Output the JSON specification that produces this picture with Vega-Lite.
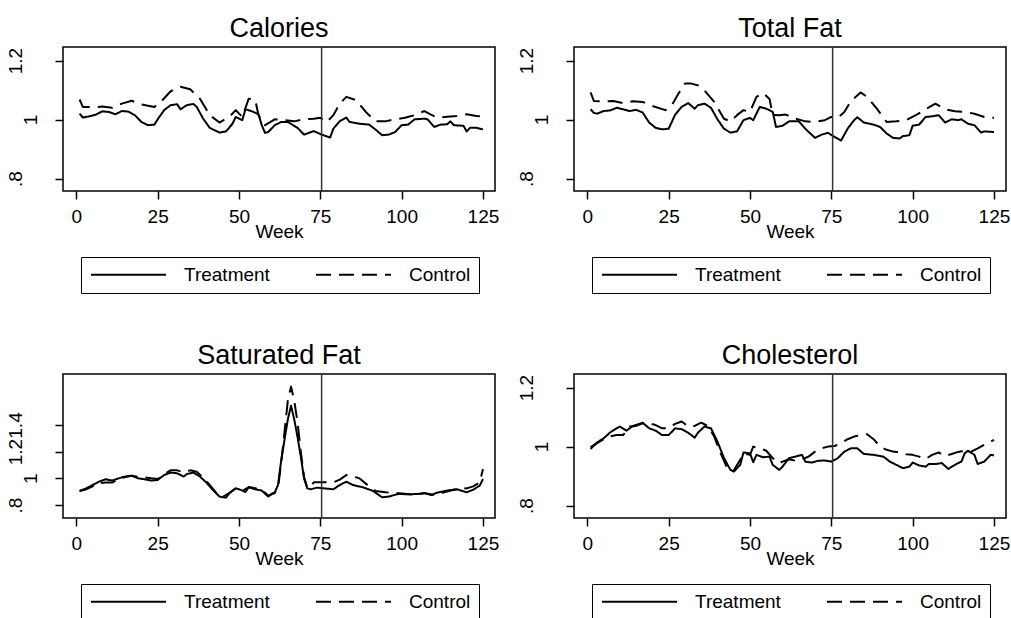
{
  "$schema": "https://vega.github.io/schema/vega-lite/v6.json",
  "background": "white",
  "padding": {"left": 5, "top": 14, "right": 2, "bottom": 0},
  "datasets": {
    "cal": [
      {"w":1,"g":"Treatment","v":1.020},{"w":2,"g":"Treatment","v":1.007},{"w":4,"g":"Treatment","v":1.011},{"w":6,"g":"Treatment","v":1.017},{"w":8,"g":"Treatment","v":1.028},{"w":10,"g":"Treatment","v":1.026},{"w":12,"g":"Treatment","v":1.018},{"w":14,"g":"Treatment","v":1.029},{"w":16,"g":"Treatment","v":1.027},{"w":18,"g":"Treatment","v":1.015},{"w":20,"g":"Treatment","v":0.992},{"w":22,"g":"Treatment","v":0.981},{"w":24,"g":"Treatment","v":0.983},{"w":25,"g":"Treatment","v":1.001},{"w":27,"g":"Treatment","v":1.032},{"w":29,"g":"Treatment","v":1.049},{"w":31,"g":"Treatment","v":1.052},{"w":32,"g":"Treatment","v":1.035},{"w":34,"g":"Treatment","v":1.049},{"w":36,"g":"Treatment","v":1.053},{"w":37,"g":"Treatment","v":1.043},{"w":39,"g":"Treatment","v":1.003},{"w":41,"g":"Treatment","v":0.972},{"w":44,"g":"Treatment","v":0.956},{"w":46,"g":"Treatment","v":0.960},{"w":48,"g":"Treatment","v":0.986},{"w":49,"g":"Treatment","v":1.009},{"w":51,"g":"Treatment","v":0.998},{"w":52,"g":"Treatment","v":1.035},{"w":54,"g":"Treatment","v":1.028},{"w":56,"g":"Treatment","v":1.018},{"w":57,"g":"Treatment","v":0.981},{"w":58,"g":"Treatment","v":0.955},{"w":59,"g":"Treatment","v":0.958},{"w":61,"g":"Treatment","v":0.981},{"w":63,"g":"Treatment","v":0.992},{"w":65,"g":"Treatment","v":0.992},{"w":68,"g":"Treatment","v":0.972},{"w":70,"g":"Treatment","v":0.949},{"w":73,"g":"Treatment","v":0.961},{"w":75,"g":"Treatment","v":0.951},{"w":76,"g":"Treatment","v":0.947},{"w":78,"g":"Treatment","v":0.939},{"w":79,"g":"Treatment","v":0.969},{"w":81,"g":"Treatment","v":0.995},{"w":83,"g":"Treatment","v":1.007},{"w":84,"g":"Treatment","v":0.992},{"w":87,"g":"Treatment","v":0.986},{"w":90,"g":"Treatment","v":0.983},{"w":92,"g":"Treatment","v":0.966},{"w":94,"g":"Treatment","v":0.947},{"w":96,"g":"Treatment","v":0.949},{"w":98,"g":"Treatment","v":0.958},{"w":100,"g":"Treatment","v":0.981},{"w":102,"g":"Treatment","v":0.983},{"w":104,"g":"Treatment","v":1.001},{"w":107,"g":"Treatment","v":1.003},{"w":108,"g":"Treatment","v":1.001},{"w":110,"g":"Treatment","v":0.975},{"w":112,"g":"Treatment","v":0.983},{"w":114,"g":"Treatment","v":0.984},{"w":115,"g":"Treatment","v":0.994},{"w":116,"g":"Treatment","v":0.981},{"w":119,"g":"Treatment","v":0.979},{"w":120,"g":"Treatment","v":0.960},{"w":121,"g":"Treatment","v":0.972},{"w":123,"g":"Treatment","v":0.972},{"w":125,"g":"Treatment","v":0.967},
      {"w":1,"g":"Control","v":1.068},{"w":2,"g":"Control","v":1.043},{"w":5,"g":"Control","v":1.042},{"w":8,"g":"Control","v":1.044},{"w":11,"g":"Control","v":1.040},{"w":14,"g":"Control","v":1.054},{"w":17,"g":"Control","v":1.064},{"w":20,"g":"Control","v":1.051},{"w":24,"g":"Control","v":1.043},{"w":26,"g":"Control","v":1.060},{"w":29,"g":"Control","v":1.096},{"w":32,"g":"Control","v":1.111},{"w":35,"g":"Control","v":1.103},{"w":38,"g":"Control","v":1.071},{"w":41,"g":"Control","v":1.015},{"w":44,"g":"Control","v":0.990},{"w":47,"g":"Control","v":1.009},{"w":49,"g":"Control","v":1.032},{"w":51,"g":"Control","v":1.009},{"w":53,"g":"Control","v":1.071},{"w":55,"g":"Control","v":1.066},{"w":56,"g":"Control","v":1.015},{"w":58,"g":"Control","v":0.981},{"w":61,"g":"Control","v":1.001},{"w":64,"g":"Control","v":0.998},{"w":67,"g":"Control","v":0.994},{"w":70,"g":"Control","v":1.001},{"w":73,"g":"Control","v":1.003},{"w":75,"g":"Control","v":1.006},{"w":77,"g":"Control","v":0.992},{"w":79,"g":"Control","v":1.015},{"w":81,"g":"Control","v":1.054},{"w":83,"g":"Control","v":1.077},{"w":86,"g":"Control","v":1.066},{"w":89,"g":"Control","v":1.026},{"w":92,"g":"Control","v":0.994},{"w":95,"g":"Control","v":0.994},{"w":98,"g":"Control","v":1.001},{"w":101,"g":"Control","v":1.006},{"w":104,"g":"Control","v":1.015},{"w":107,"g":"Control","v":1.029},{"w":109,"g":"Control","v":1.017},{"w":111,"g":"Control","v":1.006},{"w":114,"g":"Control","v":1.010},{"w":117,"g":"Control","v":1.012},{"w":120,"g":"Control","v":1.018},{"w":123,"g":"Control","v":1.012},{"w":125,"g":"Control","v":1.010}
    ],
    "fat": [
      {"w":1,"g":"Treatment","v":1.035},{"w":2,"g":"Treatment","v":1.023},{"w":3,"g":"Treatment","v":1.020},{"w":5,"g":"Treatment","v":1.029},{"w":7,"g":"Treatment","v":1.031},{"w":9,"g":"Treatment","v":1.040},{"w":11,"g":"Treatment","v":1.035},{"w":13,"g":"Treatment","v":1.029},{"w":15,"g":"Treatment","v":1.033},{"w":17,"g":"Treatment","v":1.024},{"w":19,"g":"Treatment","v":0.990},{"w":21,"g":"Treatment","v":0.972},{"w":23,"g":"Treatment","v":0.967},{"w":25,"g":"Treatment","v":0.969},{"w":27,"g":"Treatment","v":1.017},{"w":29,"g":"Treatment","v":1.043},{"w":31,"g":"Treatment","v":1.056},{"w":33,"g":"Treatment","v":1.037},{"w":34,"g":"Treatment","v":1.049},{"w":36,"g":"Treatment","v":1.054},{"w":38,"g":"Treatment","v":1.040},{"w":40,"g":"Treatment","v":1.001},{"w":42,"g":"Treatment","v":0.969},{"w":44,"g":"Treatment","v":0.956},{"w":46,"g":"Treatment","v":0.960},{"w":48,"g":"Treatment","v":0.998},{"w":50,"g":"Treatment","v":1.006},{"w":51,"g":"Treatment","v":0.998},{"w":53,"g":"Treatment","v":1.043},{"w":55,"g":"Treatment","v":1.037},{"w":57,"g":"Treatment","v":1.026},{"w":58,"g":"Treatment","v":0.975},{"w":60,"g":"Treatment","v":0.979},{"w":62,"g":"Treatment","v":0.994},{"w":65,"g":"Treatment","v":0.994},{"w":67,"g":"Treatment","v":0.969},{"w":70,"g":"Treatment","v":0.938},{"w":72,"g":"Treatment","v":0.949},{"w":74,"g":"Treatment","v":0.955},{"w":76,"g":"Treatment","v":0.941},{"w":78,"g":"Treatment","v":0.929},{"w":80,"g":"Treatment","v":0.969},{"w":82,"g":"Treatment","v":0.998},{"w":83,"g":"Treatment","v":1.008},{"w":85,"g":"Treatment","v":0.990},{"w":88,"g":"Treatment","v":0.983},{"w":90,"g":"Treatment","v":0.975},{"w":92,"g":"Treatment","v":0.953},{"w":94,"g":"Treatment","v":0.938},{"w":96,"g":"Treatment","v":0.936},{"w":97,"g":"Treatment","v":0.944},{"w":99,"g":"Treatment","v":0.947},{"w":100,"g":"Treatment","v":0.979},{"w":102,"g":"Treatment","v":0.983},{"w":104,"g":"Treatment","v":1.009},{"w":106,"g":"Treatment","v":1.011},{"w":108,"g":"Treatment","v":1.015},{"w":110,"g":"Treatment","v":0.990},{"w":112,"g":"Treatment","v":1.001},{"w":114,"g":"Treatment","v":0.998},{"w":115,"g":"Treatment","v":1.001},{"w":117,"g":"Treatment","v":0.986},{"w":119,"g":"Treatment","v":0.981},{"w":121,"g":"Treatment","v":0.956},{"w":122,"g":"Treatment","v":0.960},{"w":125,"g":"Treatment","v":0.958},
      {"w":1,"g":"Control","v":1.092},{"w":2,"g":"Control","v":1.063},{"w":5,"g":"Control","v":1.062},{"w":8,"g":"Control","v":1.063},{"w":11,"g":"Control","v":1.056},{"w":14,"g":"Control","v":1.062},{"w":17,"g":"Control","v":1.060},{"w":20,"g":"Control","v":1.046},{"w":24,"g":"Control","v":1.032},{"w":26,"g":"Control","v":1.049},{"w":28,"g":"Control","v":1.088},{"w":30,"g":"Control","v":1.122},{"w":32,"g":"Control","v":1.122},{"w":34,"g":"Control","v":1.116},{"w":36,"g":"Control","v":1.099},{"w":39,"g":"Control","v":1.060},{"w":42,"g":"Control","v":1.003},{"w":44,"g":"Control","v":0.994},{"w":46,"g":"Control","v":1.015},{"w":48,"g":"Control","v":1.032},{"w":50,"g":"Control","v":1.026},{"w":52,"g":"Control","v":1.077},{"w":54,"g":"Control","v":1.090},{"w":56,"g":"Control","v":1.070},{"w":57,"g":"Control","v":1.016},{"w":59,"g":"Control","v":1.015},{"w":61,"g":"Control","v":1.017},{"w":64,"g":"Control","v":1.003},{"w":67,"g":"Control","v":0.994},{"w":70,"g":"Control","v":0.992},{"w":73,"g":"Control","v":0.998},{"w":75,"g":"Control","v":1.009},{"w":77,"g":"Control","v":1.006},{"w":79,"g":"Control","v":1.026},{"w":81,"g":"Control","v":1.062},{"w":84,"g":"Control","v":1.092},{"w":86,"g":"Control","v":1.077},{"w":89,"g":"Control","v":1.037},{"w":92,"g":"Control","v":0.992},{"w":95,"g":"Control","v":0.994},{"w":98,"g":"Control","v":0.998},{"w":101,"g":"Control","v":1.015},{"w":104,"g":"Control","v":1.035},{"w":107,"g":"Control","v":1.054},{"w":110,"g":"Control","v":1.035},{"w":113,"g":"Control","v":1.028},{"w":116,"g":"Control","v":1.026},{"w":119,"g":"Control","v":1.020},{"w":122,"g":"Control","v":1.009},{"w":125,"g":"Control","v":1.006}
    ],
    "sat": [
      {"w":1,"g":"Treatment","v":0.905},{"w":3,"g":"Treatment","v":0.925},{"w":5,"g":"Treatment","v":0.950},{"w":7,"g":"Treatment","v":0.975},{"w":9,"g":"Treatment","v":0.993},{"w":11,"g":"Treatment","v":0.983},{"w":13,"g":"Treatment","v":1.000},{"w":15,"g":"Treatment","v":1.013},{"w":17,"g":"Treatment","v":1.020},{"w":19,"g":"Treatment","v":1.000},{"w":21,"g":"Treatment","v":0.993},{"w":23,"g":"Treatment","v":0.983},{"w":25,"g":"Treatment","v":0.988},{"w":27,"g":"Treatment","v":1.025},{"w":29,"g":"Treatment","v":1.043},{"w":31,"g":"Treatment","v":1.038},{"w":33,"g":"Treatment","v":1.013},{"w":34,"g":"Treatment","v":1.033},{"w":36,"g":"Treatment","v":1.043},{"w":38,"g":"Treatment","v":1.013},{"w":40,"g":"Treatment","v":0.968},{"w":42,"g":"Treatment","v":0.913},{"w":44,"g":"Treatment","v":0.863},{"w":46,"g":"Treatment","v":0.855},{"w":47,"g":"Treatment","v":0.888},{"w":49,"g":"Treatment","v":0.925},{"w":50,"g":"Treatment","v":0.918},{"w":52,"g":"Treatment","v":0.898},{"w":53,"g":"Treatment","v":0.933},{"w":55,"g":"Treatment","v":0.918},{"w":57,"g":"Treatment","v":0.908},{"w":59,"g":"Treatment","v":0.863},{"w":60,"g":"Treatment","v":0.883},{"w":61,"g":"Treatment","v":0.895},{"w":62,"g":"Treatment","v":0.950},{"w":63,"g":"Treatment","v":1.140},{"w":64,"g":"Treatment","v":1.290},{"w":65,"g":"Treatment","v":1.440},{"w":66,"g":"Treatment","v":1.545},{"w":67,"g":"Treatment","v":1.440},{"w":68,"g":"Treatment","v":1.310},{"w":69,"g":"Treatment","v":1.163},{"w":70,"g":"Treatment","v":1.000},{"w":71,"g":"Treatment","v":0.925},{"w":72,"g":"Treatment","v":0.918},{"w":74,"g":"Treatment","v":0.930},{"w":76,"g":"Treatment","v":0.925},{"w":79,"g":"Treatment","v":0.918},{"w":81,"g":"Treatment","v":0.950},{"w":83,"g":"Treatment","v":0.975},{"w":85,"g":"Treatment","v":0.950},{"w":88,"g":"Treatment","v":0.933},{"w":91,"g":"Treatment","v":0.908},{"w":94,"g":"Treatment","v":0.858},{"w":96,"g":"Treatment","v":0.863},{"w":99,"g":"Treatment","v":0.883},{"w":102,"g":"Treatment","v":0.880},{"w":105,"g":"Treatment","v":0.883},{"w":107,"g":"Treatment","v":0.888},{"w":109,"g":"Treatment","v":0.875},{"w":111,"g":"Treatment","v":0.893},{"w":114,"g":"Treatment","v":0.908},{"w":117,"g":"Treatment","v":0.918},{"w":120,"g":"Treatment","v":0.895},{"w":122,"g":"Treatment","v":0.915},{"w":124,"g":"Treatment","v":0.945},{"w":125,"g":"Treatment","v":0.995},
      {"w":1,"g":"Control","v":0.905},{"w":3,"g":"Control","v":0.918},{"w":5,"g":"Control","v":0.940},{"w":7,"g":"Control","v":0.965},{"w":9,"g":"Control","v":0.968},{"w":11,"g":"Control","v":0.968},{"w":13,"g":"Control","v":0.995},{"w":15,"g":"Control","v":1.010},{"w":17,"g":"Control","v":1.020},{"w":19,"g":"Control","v":1.010},{"w":21,"g":"Control","v":1.008},{"w":23,"g":"Control","v":1.000},{"w":25,"g":"Control","v":0.995},{"w":27,"g":"Control","v":1.030},{"w":29,"g":"Control","v":1.060},{"w":31,"g":"Control","v":1.060},{"w":33,"g":"Control","v":1.045},{"w":35,"g":"Control","v":1.060},{"w":37,"g":"Control","v":1.050},{"w":39,"g":"Control","v":1.005},{"w":41,"g":"Control","v":0.950},{"w":43,"g":"Control","v":0.890},{"w":45,"g":"Control","v":0.860},{"w":47,"g":"Control","v":0.890},{"w":49,"g":"Control","v":0.925},{"w":51,"g":"Control","v":0.905},{"w":53,"g":"Control","v":0.935},{"w":55,"g":"Control","v":0.925},{"w":57,"g":"Control","v":0.915},{"w":59,"g":"Control","v":0.870},{"w":61,"g":"Control","v":0.890},{"w":62,"g":"Control","v":0.930},{"w":63,"g":"Control","v":1.120},{"w":64,"g":"Control","v":1.350},{"w":65,"g":"Control","v":1.580},{"w":66,"g":"Control","v":1.688},{"w":67,"g":"Control","v":1.580},{"w":68,"g":"Control","v":1.420},{"w":69,"g":"Control","v":1.200},{"w":70,"g":"Control","v":1.010},{"w":71,"g":"Control","v":0.930},{"w":72,"g":"Control","v":0.940},{"w":73,"g":"Control","v":0.970},{"w":76,"g":"Control","v":0.970},{"w":79,"g":"Control","v":0.970},{"w":81,"g":"Control","v":0.990},{"w":83,"g":"Control","v":1.025},{"w":85,"g":"Control","v":1.015},{"w":87,"g":"Control","v":1.000},{"w":90,"g":"Control","v":0.940},{"w":92,"g":"Control","v":0.905},{"w":95,"g":"Control","v":0.895},{"w":98,"g":"Control","v":0.890},{"w":101,"g":"Control","v":0.885},{"w":104,"g":"Control","v":0.875},{"w":107,"g":"Control","v":0.890},{"w":110,"g":"Control","v":0.875},{"w":113,"g":"Control","v":0.895},{"w":116,"g":"Control","v":0.915},{"w":118,"g":"Control","v":0.920},{"w":120,"g":"Control","v":0.925},{"w":122,"g":"Control","v":0.940},{"w":124,"g":"Control","v":0.970},{"w":125,"g":"Control","v":1.070}
    ],
    "chol": [
      {"w":1,"g":"Treatment","v":0.992},{"w":3,"g":"Treatment","v":1.014},{"w":5,"g":"Treatment","v":1.028},{"w":7,"g":"Treatment","v":1.048},{"w":9,"g":"Treatment","v":1.062},{"w":10,"g":"Treatment","v":1.068},{"w":12,"g":"Treatment","v":1.054},{"w":14,"g":"Treatment","v":1.070},{"w":16,"g":"Treatment","v":1.077},{"w":17,"g":"Treatment","v":1.081},{"w":19,"g":"Treatment","v":1.062},{"w":21,"g":"Treatment","v":1.054},{"w":23,"g":"Treatment","v":1.039},{"w":25,"g":"Treatment","v":1.039},{"w":27,"g":"Treatment","v":1.062},{"w":29,"g":"Treatment","v":1.059},{"w":31,"g":"Treatment","v":1.047},{"w":33,"g":"Treatment","v":1.030},{"w":34,"g":"Treatment","v":1.047},{"w":36,"g":"Treatment","v":1.068},{"w":38,"g":"Treatment","v":1.062},{"w":40,"g":"Treatment","v":1.017},{"w":42,"g":"Treatment","v":0.961},{"w":44,"g":"Treatment","v":0.921},{"w":45,"g":"Treatment","v":0.915},{"w":47,"g":"Treatment","v":0.938},{"w":48,"g":"Treatment","v":0.980},{"w":50,"g":"Treatment","v":0.977},{"w":51,"g":"Treatment","v":0.947},{"w":52,"g":"Treatment","v":0.972},{"w":54,"g":"Treatment","v":0.964},{"w":56,"g":"Treatment","v":0.966},{"w":57,"g":"Treatment","v":0.938},{"w":59,"g":"Treatment","v":0.921},{"w":60,"g":"Treatment","v":0.932},{"w":62,"g":"Treatment","v":0.961},{"w":64,"g":"Treatment","v":0.966},{"w":66,"g":"Treatment","v":0.972},{"w":67,"g":"Treatment","v":0.949},{"w":69,"g":"Treatment","v":0.946},{"w":71,"g":"Treatment","v":0.952},{"w":73,"g":"Treatment","v":0.953},{"w":75,"g":"Treatment","v":0.949},{"w":77,"g":"Treatment","v":0.961},{"w":79,"g":"Treatment","v":0.983},{"w":81,"g":"Treatment","v":0.994},{"w":83,"g":"Treatment","v":0.994},{"w":85,"g":"Treatment","v":0.975},{"w":88,"g":"Treatment","v":0.972},{"w":91,"g":"Treatment","v":0.966},{"w":93,"g":"Treatment","v":0.949},{"w":95,"g":"Treatment","v":0.938},{"w":97,"g":"Treatment","v":0.927},{"w":99,"g":"Treatment","v":0.932},{"w":100,"g":"Treatment","v":0.946},{"w":102,"g":"Treatment","v":0.936},{"w":104,"g":"Treatment","v":0.932},{"w":105,"g":"Treatment","v":0.941},{"w":107,"g":"Treatment","v":0.941},{"w":109,"g":"Treatment","v":0.944},{"w":111,"g":"Treatment","v":0.924},{"w":112,"g":"Treatment","v":0.932},{"w":114,"g":"Treatment","v":0.944},{"w":115,"g":"Treatment","v":0.949},{"w":116,"g":"Treatment","v":0.977},{"w":117,"g":"Treatment","v":0.986},{"w":119,"g":"Treatment","v":0.972},{"w":120,"g":"Treatment","v":0.941},{"w":122,"g":"Treatment","v":0.949},{"w":124,"g":"Treatment","v":0.972},{"w":125,"g":"Treatment","v":0.970},
      {"w":1,"g":"Control","v":0.998},{"w":3,"g":"Control","v":1.012},{"w":5,"g":"Control","v":1.025},{"w":7,"g":"Control","v":1.035},{"w":9,"g":"Control","v":1.039},{"w":11,"g":"Control","v":1.039},{"w":13,"g":"Control","v":1.068},{"w":15,"g":"Control","v":1.070},{"w":17,"g":"Control","v":1.079},{"w":19,"g":"Control","v":1.079},{"w":21,"g":"Control","v":1.073},{"w":23,"g":"Control","v":1.062},{"w":25,"g":"Control","v":1.062},{"w":27,"g":"Control","v":1.077},{"w":29,"g":"Control","v":1.085},{"w":31,"g":"Control","v":1.068},{"w":33,"g":"Control","v":1.070},{"w":35,"g":"Control","v":1.081},{"w":37,"g":"Control","v":1.070},{"w":39,"g":"Control","v":1.034},{"w":41,"g":"Control","v":0.977},{"w":43,"g":"Control","v":0.927},{"w":45,"g":"Control","v":0.919},{"w":47,"g":"Control","v":0.955},{"w":48,"g":"Control","v":0.977},{"w":50,"g":"Control","v":0.972},{"w":51,"g":"Control","v":1.000},{"w":53,"g":"Control","v":0.994},{"w":55,"g":"Control","v":0.986},{"w":57,"g":"Control","v":0.961},{"w":59,"g":"Control","v":0.944},{"w":60,"g":"Control","v":0.949},{"w":62,"g":"Control","v":0.957},{"w":64,"g":"Control","v":0.952},{"w":66,"g":"Control","v":0.957},{"w":68,"g":"Control","v":0.966},{"w":70,"g":"Control","v":0.983},{"w":72,"g":"Control","v":0.994},{"w":74,"g":"Control","v":1.000},{"w":76,"g":"Control","v":1.002},{"w":78,"g":"Control","v":1.011},{"w":80,"g":"Control","v":1.025},{"w":82,"g":"Control","v":1.034},{"w":84,"g":"Control","v":1.039},{"w":86,"g":"Control","v":1.042},{"w":88,"g":"Control","v":1.025},{"w":90,"g":"Control","v":1.000},{"w":92,"g":"Control","v":0.989},{"w":94,"g":"Control","v":0.983},{"w":96,"g":"Control","v":0.980},{"w":98,"g":"Control","v":0.974},{"w":100,"g":"Control","v":0.972},{"w":102,"g":"Control","v":0.966},{"w":104,"g":"Control","v":0.958},{"w":106,"g":"Control","v":0.972},{"w":108,"g":"Control","v":0.980},{"w":110,"g":"Control","v":0.968},{"w":112,"g":"Control","v":0.975},{"w":114,"g":"Control","v":0.982},{"w":116,"g":"Control","v":0.986},{"w":118,"g":"Control","v":0.983},{"w":120,"g":"Control","v":0.994},{"w":122,"g":"Control","v":1.006},{"w":124,"g":"Control","v":1.017},{"w":125,"g":"Control","v":1.023}
    ]
  },
  "columns": 2,
  "spacing": {"row": 46, "column": 16},
  "resolve": {"scale": {"x": "independent", "y": "independent", "strokeDash": "independent"}, "legend": {"strokeDash": "independent"}},
  "concat": [
    {
      "width": 432, "height": 144,
      "title": {"text": "Calories"},
      "layer": [
        {"data": {"name": "cal"}, "mark": {"type": "line", "strokeWidth": 2, "color": "black", "strokeJoin": "round"},
         "encoding": {
           "x": {"field": "w", "type": "quantitative", "scale": {"domain": [-4.1, 128.7], "nice": false, "zero": false}, "axis": {"values": [0, 25, 50, 75, 100, 125], "title": "Week"}},
           "y": {"field": "v", "type": "quantitative", "scale": {"domain": [0.758, 1.246], "nice": false, "zero": false}, "axis": {"values": [0.8, 1, 1.2], "title": null, "labelExpr": "datum.value < 0.9 ? '.8' : datum.value < 1.1 ? '1' : datum.value < 1.3 ? '1.2' : '1.4'", "labelPadding": {"condition": {"test": "datum.value == 1", "value": 19}, "value": 34}}},
           "strokeDash": {"field": "g", "type": "nominal", "scale": {"domain": ["Treatment", "Control"], "range": [[1, 0], [15, 8]]}, "legend": {"title": null, "orient": "none", "legendX": 18, "legendY": 210, "direction": "horizontal"}}
         }},
        {"data": {"values": [{"w": 75.4}]}, "mark": {"type": "rule", "color": "#333333", "strokeWidth": 1.5}, "encoding": {"x": {"field": "w", "type": "quantitative"}}}
      ]
    },
    {
      "width": 432, "height": 144,
      "title": {"text": "Total Fat"},
      "layer": [
        {"data": {"name": "fat"}, "mark": {"type": "line", "strokeWidth": 2, "color": "black", "strokeJoin": "round"},
         "encoding": {
           "x": {"field": "w", "type": "quantitative", "scale": {"domain": [-4.1, 128.7], "nice": false, "zero": false}, "axis": {"values": [0, 25, 50, 75, 100, 125], "title": "Week"}},
           "y": {"field": "v", "type": "quantitative", "scale": {"domain": [0.758, 1.246], "nice": false, "zero": false}, "axis": {"values": [0.8, 1, 1.2], "title": null, "labelExpr": "datum.value < 0.9 ? '.8' : datum.value < 1.1 ? '1' : datum.value < 1.3 ? '1.2' : '1.4'", "labelPadding": {"condition": {"test": "datum.value == 1", "value": 19}, "value": 34}}},
           "strokeDash": {"field": "g", "type": "nominal", "scale": {"domain": ["Treatment", "Control"], "range": [[1, 0], [15, 8]]}, "legend": {"title": null, "orient": "none", "legendX": 18, "legendY": 210, "direction": "horizontal"}}
         }},
        {"data": {"values": [{"w": 75.4}]}, "mark": {"type": "rule", "color": "#333333", "strokeWidth": 1.5}, "encoding": {"x": {"field": "w", "type": "quantitative"}}}
      ]
    },
    {
      "width": 432, "height": 144,
      "title": {"text": "Saturated Fat"},
      "layer": [
        {"data": {"name": "sat"}, "mark": {"type": "line", "strokeWidth": 2, "color": "black", "strokeJoin": "round"},
         "encoding": {
           "x": {"field": "w", "type": "quantitative", "scale": {"domain": [-4.1, 128.7], "nice": false, "zero": false}, "axis": {"values": [0, 25, 50, 75, 100, 125], "title": "Week"}},
           "y": {"field": "v", "type": "quantitative", "scale": {"domain": [0.7025, 1.7825], "nice": false, "zero": false}, "axis": {"values": [0.8, 1, 1.2, 1.4], "title": null, "labelExpr": "datum.value < 0.9 ? '.8' : datum.value < 1.1 ? '1' : datum.value < 1.3 ? '1.2' : '1.4'", "labelPadding": {"condition": {"test": "datum.value == 1", "value": 19}, "value": 34}}},
           "strokeDash": {"field": "g", "type": "nominal", "scale": {"domain": ["Treatment", "Control"], "range": [[1, 0], [15, 8]]}, "legend": {"title": null, "orient": "none", "legendX": 18, "legendY": 210, "direction": "horizontal"}}
         }},
        {"data": {"values": [{"w": 75.4}]}, "mark": {"type": "rule", "color": "#333333", "strokeWidth": 1.5}, "encoding": {"x": {"field": "w", "type": "quantitative"}}}
      ]
    },
    {
      "width": 432, "height": 144,
      "title": {"text": "Cholesterol"},
      "layer": [
        {"data": {"name": "chol"}, "mark": {"type": "line", "strokeWidth": 2, "color": "black", "strokeJoin": "round"},
         "encoding": {
           "x": {"field": "w", "type": "quantitative", "scale": {"domain": [-4.1, 128.7], "nice": false, "zero": false}, "axis": {"values": [0, 25, 50, 75, 100, 125], "title": "Week"}},
           "y": {"field": "v", "type": "quantitative", "scale": {"domain": [0.758, 1.246], "nice": false, "zero": false}, "axis": {"values": [0.8, 1, 1.2], "title": null, "labelExpr": "datum.value < 0.9 ? '.8' : datum.value < 1.1 ? '1' : datum.value < 1.3 ? '1.2' : '1.4'", "labelPadding": {"condition": {"test": "datum.value == 1", "value": 19}, "value": 34}}},
           "strokeDash": {"field": "g", "type": "nominal", "scale": {"domain": ["Treatment", "Control"], "range": [[1, 0], [15, 8]]}, "legend": {"title": null, "orient": "none", "legendX": 18, "legendY": 210, "direction": "horizontal"}}
         }},
        {"data": {"values": [{"w": 75.4}]}, "mark": {"type": "rule", "color": "#333333", "strokeWidth": 1.5}, "encoding": {"x": {"field": "w", "type": "quantitative"}}}
      ]
    }
  ],
  "config": {
    "font": "Liberation Sans",
    "view": {"stroke": "black", "strokeWidth": 1.5},
    "title": {"fontSize": 27, "font": "Liberation Sans", "fontWeight": "normal", "color": "black", "baseline": "alphabetic", "offset": 3, "anchor": "middle"},
    "axis": {"grid": false, "domain": false, "ticks": true, "tickSize": 8, "tickWidth": 1.5, "tickColor": "black", "labelFontSize": 19, "labelColor": "black", "labelFont": "Liberation Sans", "titleFont": "Liberation Sans", "titleFontSize": 19, "titleFontWeight": "normal", "titleColor": "black", "labelFlush": false, "labelOverlap": false, "labelBound": false},
    "axisX": {"labelPadding": 8, "titlePadding": -4},
    "axisY": {"labelAngle": -90, "labelAlign": "center", "labelBaseline": "alphabetic"},
    "legend": {"labelFontSize": 19, "labelFont": "Liberation Sans", "labelColor": "black", "symbolType": "M-1,0H9", "symbolSize": 225, "symbolStrokeWidth": 2, "symbolStrokeColor": "black", "labelOffset": 76, "columnPadding": 42, "padding": 8, "strokeColor": "black"}
  }
}
